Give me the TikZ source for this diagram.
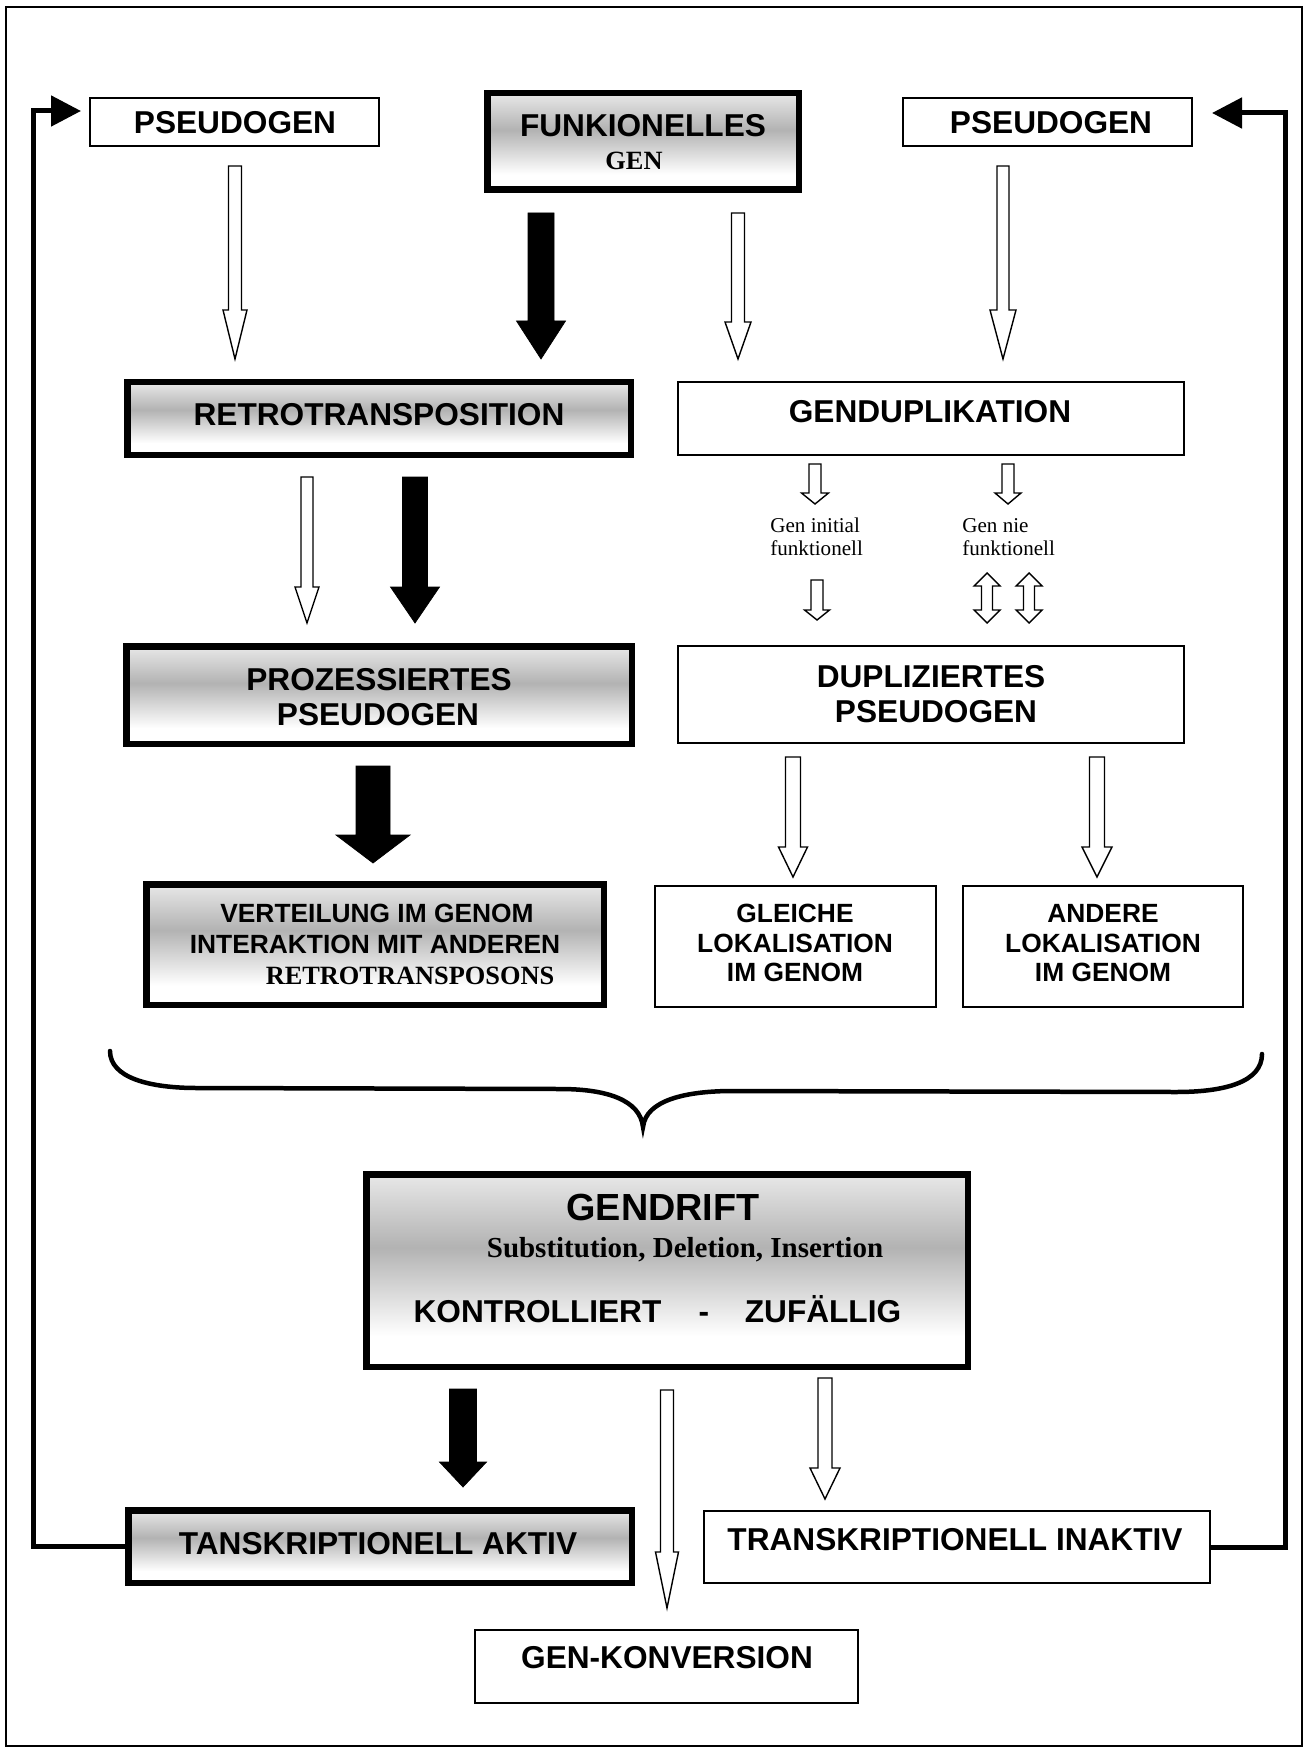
\documentclass[tikz,border=0pt]{standalone}
\usepackage{fontspec}
\setmainfont{Liberation Serif}
\setsansfont{Liberation Sans}
\usetikzlibrary{calc,arrows.meta}

\newcommand\upx{0.02cm}

% light grey band in the upper middle, white towards the bottom
\pgfdeclareverticalshading{boxshade}{100bp}{color(0bp)=(white); color(25bp)=(white); color(33bp)=(white); color(56bp)=(black!30); color(75bp)=(black!9); color(100bp)=(black!9)}

% vertical block arrow: style, tail, tip, half shaft, half head, head length
\newcommand\blockarrow[6][]{%
  \draw[#1] ($(#2)+(-#4,0)$) -- ($(#2)+(#4,0)$) -- ($(#3)+(#4,-#6)$) -- ($(#3)+(#5,-#6)$)
    -- (#3) -- ($(#3)+(-#5,-#6)$) -- ($(#3)+(-#4,-#6)$) -- cycle;}

% vertical double-headed block arrow: style, top tip, bottom tip, half shaft, half head, head length
\newcommand\dblarrow[6][]{%
  \draw[#1] (#2) -- ($(#2)+(#5,#6)$) -- ($(#2)+(#4,#6)$) -- ($(#3)+(#4,-#6)$) -- ($(#3)+(#5,-#6)$)
    -- (#3) -- ($(#3)+(-#5,-#6)$) -- ($(#3)+(-#4,-#6)$) -- ($(#2)+(-#4,#6)$) -- ($(#2)+(-#5,#6)$) -- cycle;}

\tikzset{
  thinbox/.style={draw, line width=0.04cm, fill=white, inner sep=0pt},
  thickbox/.style={draw, line width=0.13cm, shade, shading=boxshade, inner sep=0pt},
  tbig/.style={anchor=base, inner sep=0pt, font=\sffamily\bfseries\fontsize{18}{20}\selectfont},
  tmid/.style={anchor=base, inner sep=0pt, font=\sffamily\bfseries\fontsize{15}{17}\selectfont},
  thead/.style={anchor=base, inner sep=0pt, font=\sffamily\bfseries\fontsize{21.5}{24}\selectfont},
  tserb/.style={anchor=base, inner sep=0pt, font=\rmfamily\bfseries\fontsize{15}{17}\selectfont},
  tsub/.style={anchor=base, inner sep=0pt, font=\rmfamily\bfseries\fontsize{16.5}{18}\selectfont},
  tsmall/.style={anchor=base west, inner sep=0pt, font=\rmfamily\fontsize{12}{13.6}\selectfont},
  openarrow/.style={draw=black, fill=white, line width=0.8pt, line join=miter},
  solidarrow/.style={draw=black, fill=black, line width=0.4pt, line join=miter},
  feedback/.style={line width=0.1cm, line join=miter, -{Triangle[length=0.6cm,width=0.6cm]}},
  bracestyle/.style={line width=0.09cm, line cap=round}
}

\begin{document}
\begin{tikzpicture}[x=0.02cm, y=-0.02cm]
\useasboundingbox (0,0) rectangle (1307,1753);
\draw[line width=0.03cm] (6,7) rectangle (1302,1746);

% ---- boxes ----
\node[thinbox, minimum width=289*\upx, minimum height=48*\upx] (pseudoL) at (234.5,122) {};
\node[thinbox, minimum width=289*\upx, minimum height=48*\upx] (pseudoR) at (1047.5,122) {};
\node[thickbox, minimum width=311.5*\upx, minimum height=96.5*\upx] (funk) at (643,141.5) {};
\node[thickbox, minimum width=503.5*\upx, minimum height=72.5*\upx] (retro) at (379,418.5) {};
\node[thinbox, minimum width=506*\upx, minimum height=73*\upx] (gendup) at (931,418.5) {};
\node[thickbox, minimum width=505.5*\upx, minimum height=97.5*\upx] (proz) at (379,695) {};
\node[thinbox, minimum width=506*\upx, minimum height=97*\upx] (dupl) at (931,694.5) {};
\node[thickbox, minimum width=457.5*\upx, minimum height=120.5*\upx] (vert) at (375,944.5) {};
\node[thinbox, minimum width=281*\upx, minimum height=121*\upx] (gleich) at (795.5,946.5) {};
\node[thinbox, minimum width=280*\upx, minimum height=121*\upx] (ander) at (1103,946.5) {};
\node[thickbox, minimum width=601.5*\upx, minimum height=192.5*\upx] (drift) at (667,1270.5) {};
\node[thickbox, minimum width=503.5*\upx, minimum height=72.5*\upx] (aktiv) at (380,1546.5) {};
\node[thinbox, minimum width=506*\upx, minimum height=72*\upx] (inaktiv) at (957,1547) {};
\node[thinbox, minimum width=383*\upx, minimum height=73*\upx] (konv) at (666.5,1666.5) {};

% ---- texts ----
\node[tbig] (pseudoL-t) at (235,133.5) {PSEUDOGEN};
\node[tbig] (pseudoR-t) at (1051,133.5) {PSEUDOGEN};
\node[tbig] (funk-t1) at (643,137) {FUNKIONELLES};
\node[tserb] (funk-t2) at (634,170) {GEN};
\node[tbig] (retro-t) at (379,425) {RETROTRANSPOSITION};
\node[tbig] (gendup-t) at (930,422) {GENDUPLIKATION};
\node[tsmall] (gi-1) at (770,532) {Gen initial};
\node[tsmall] (gi-2) at (770,555) {funktionell};
\node[tsmall] (gn-1) at (962,532) {Gen nie};
\node[tsmall] (gn-2) at (962,555) {funktionell};
\node[tbig] (proz-t1) at (379,690) {PROZESSIERTES};
\node[tbig] (proz-t2) at (378,725) {PSEUDOGEN};
\node[tbig] (dupl-t1) at (931,687) {DUPLIZIERTES};
\node[tbig] (dupl-t2) at (936,722) {PSEUDOGEN};
\node[tmid] (vert-t1) at (377,922) {VERTEILUNG IM GENOM};
\node[tmid] (vert-t2) at (375,953) {INTERAKTION MIT ANDEREN};
\node[tserb] (vert-t3) at (410,984) {RETROTRANSPOSONS};
\node[tmid] (gleich-t1) at (795,922) {GLEICHE};
\node[tmid] (gleich-t2) at (795,952) {LOKALISATION};
\node[tmid] (gleich-t3) at (795,981) {IM GENOM};
\node[tmid] (ander-t1) at (1103,922) {ANDERE};
\node[tmid] (ander-t2) at (1103,952) {LOKALISATION};
\node[tmid] (ander-t3) at (1103,981) {IM GENOM};
\node[thead] (drift-t1) at (663,1220) {GENDRIFT};
\node[tsub] (drift-t2) at (685,1257) {Substitution, Deletion, Insertion};
\node[tbig] (drift-t3) at (537.5,1322) {KONTROLLIERT};
\node[tbig] (drift-t4) at (704,1322) {-};
\node[tbig] (drift-t5) at (823,1322) {ZUFÄLLIG};
\node[tbig] (aktiv-t) at (378,1554) {TANSKRIPTIONELL AKTIV};
\node[tbig] (inaktiv-t) at (955,1550) {TRANSKRIPTIONELL INAKTIV};
\node[tbig] (konv-t) at (667,1668) {GEN-KONVERSION};

% ---- arrow end points ----
\coordinate (a1t) at (235,166);  \coordinate (a1h) at (235,359);
\coordinate (a2t) at (541,213);  \coordinate (a2h) at (541,359);
\coordinate (a3t) at (738,213);  \coordinate (a3h) at (738,359);
\coordinate (a4t) at (1003,166); \coordinate (a4h) at (1003,359);
\coordinate (b1t) at (307,477);  \coordinate (b1h) at (307,623);
\coordinate (b2t) at (415,477);  \coordinate (b2h) at (415,623);
\coordinate (c1t) at (815,464);  \coordinate (c1h) at (815,504);
\coordinate (c2t) at (1008,464); \coordinate (c2h) at (1008,504);
\coordinate (c3t) at (817,580);  \coordinate (c3h) at (817,620);
\coordinate (d1t) at (987,573);  \coordinate (d1h) at (987,623);
\coordinate (d2t) at (1029,573); \coordinate (d2h) at (1029,623);
\coordinate (e1t) at (373,766);  \coordinate (e1h) at (373,863);
\coordinate (f1t) at (793,757);  \coordinate (f1h) at (793,877);
\coordinate (f2t) at (1097,757); \coordinate (f2h) at (1097,877);
\coordinate (g1t) at (463,1389); \coordinate (g1h) at (463,1487);
\coordinate (g2t) at (667,1390); \coordinate (g2h) at (667,1608);
\coordinate (g3t) at (825,1378); \coordinate (g3h) at (825,1499);

% ---- block arrows ----
\blockarrow[openarrow]{a1t}{a1h}{6.5}{12}{49}
\blockarrow[solidarrow]{a2t}{a2h}{13}{24.5}{38}
\blockarrow[openarrow]{a3t}{a3h}{6.5}{13}{37}
\blockarrow[openarrow]{a4t}{a4h}{6}{13}{49}
\blockarrow[openarrow]{b1t}{b1h}{6}{12}{36}
\blockarrow[solidarrow]{b2t}{b2h}{12.5}{24.5}{36}
\blockarrow[openarrow]{c1t}{c1h}{6}{13.5}{11}
\blockarrow[openarrow]{c2t}{c2h}{6}{13}{11}
\blockarrow[openarrow]{c3t}{c3h}{6}{12.5}{10}
\dblarrow[openarrow]{d1t}{d1h}{5.5}{13}{13}
\dblarrow[openarrow]{d2t}{d2h}{5.5}{13}{13}
\blockarrow[solidarrow]{e1t}{e1h}{17}{37}{28}
\blockarrow[openarrow]{f1t}{f1h}{7.5}{14.5}{30}
\blockarrow[openarrow]{f2t}{f2h}{7.5}{15}{30}
\blockarrow[solidarrow]{g1t}{g1h}{13.5}{23.5}{25}
\blockarrow[openarrow]{g2t}{g2h}{6.5}{11.5}{56}
\blockarrow[openarrow]{g3t}{g3h}{7}{15}{31}

% ---- feedback loops ----
\coordinate (lcorner) at (33,111);  \coordinate (ltip) at (81,111);
\coordinate (rcorner) at (1285,113); \coordinate (rtip) at (1212,113);
\draw[feedback] (aktiv.west) -| (lcorner) -- (ltip);
\draw[feedback] (inaktiv.east) -| (rcorner) -- (rtip);

% ---- brace ----
\draw[bracestyle] (110,1051) .. controls (110,1078) and (150,1088) .. (197,1088)
  -- (560,1089) .. controls (607,1089) and (640,1100) .. (643,1127)
  .. controls (646,1100) and (686,1091) .. (733,1091)
  -- (1176,1092) .. controls (1225,1092) and (1262,1082) .. (1262,1054);
\end{tikzpicture}
\end{document}
